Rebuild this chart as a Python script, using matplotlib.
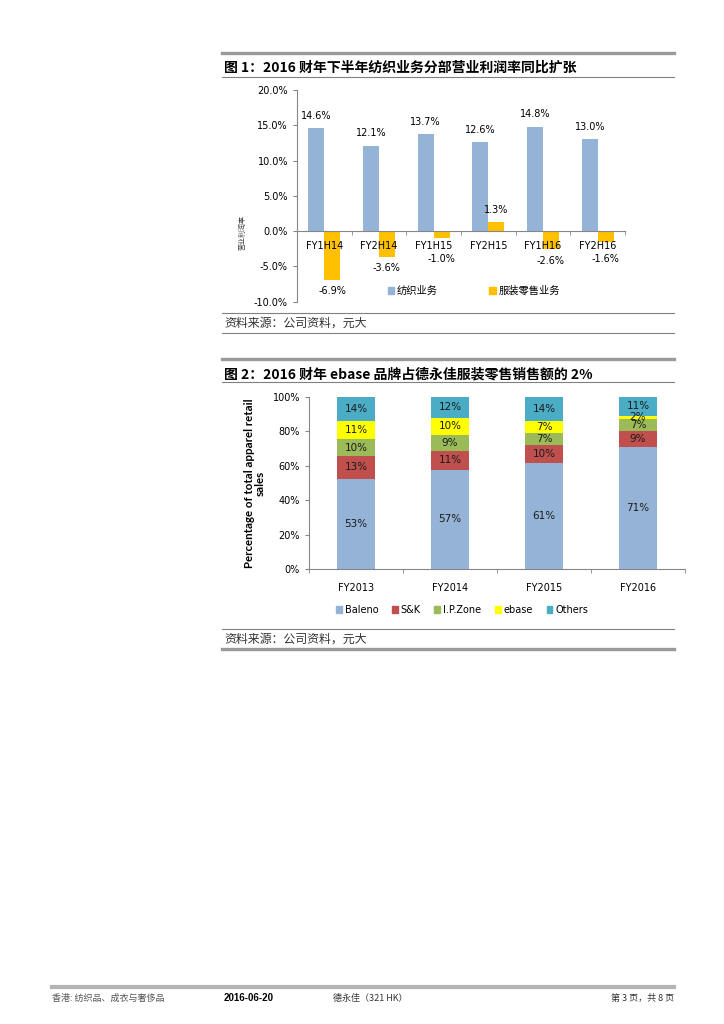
import numpy as np
import matplotlib.pyplot as plt
from matplotlib.lines import Line2D
from matplotlib.patches import Patch

plt.rcParams['font.family'] = ['DejaVu Sans', 'Noto Sans CJK SC']
CJK = ['Noto Sans CJK SC', 'DejaVu Sans']

# 图1 数据
periods = ['FY1H14', 'FY2H14', 'FY1H15', 'FY2H15', 'FY1H16', 'FY2H16']
textile = [14.6, 12.1, 13.7, 12.6, 14.8, 13.0]
retail = [-6.9, -3.6, -1.0, 1.3, -2.6, -1.6]

# 图2 数据
years = ['FY2013', 'FY2014', 'FY2015', 'FY2016']
brands = ['Baleno', 'S&K', 'I.P.Zone', 'ebase', 'Others']
baleno = [53, 57, 61, 71]
sk = [13, 11, 10, 9]
ipzone = [10, 9, 7, 7]
ebase = [11, 10, 7, 2]
others = [14, 12, 14, 11]

fig = plt.figure(figsize=(7.24, 10.24), dpi=100)


def fx(x):
    return x / 724


def fy(y):
    return 1 - y / 1024


def hline(y, x0, x1, lw, color):
    fig.add_artist(Line2D([fx(x0), fx(x1)], [fy(y), fy(y)], lw=lw, color=color))


axis_gray = '#868686'

# ---------- 图1 ----------
hline(53, 222, 674, 2.4, '#9a9a9a')
fig.text(fx(224), fy(68), '图 1：2016 财年下半年纺织业务分部营业利润率同比扩张',
         fontsize=10, fontweight='bold', va='center', family=CJK)
hline(77, 222, 674, 0.8, '#808080')

ax1 = fig.add_axes([fx(297), fy(301.7), 328 / 724, 211.7 / 1024])
x = np.arange(len(periods))
w = 0.29
ax1.bar(x - w / 2, textile, w, color='#95B3D7')
ax1.bar(x + w / 2, retail, w, color='#FFC000')
ax1.set_xlim(-0.5, len(periods) - 0.5)
ax1.set_ylim(-10, 20)
yt = np.arange(-10, 21, 5)
ax1.set_yticks(yt)
ax1.set_yticklabels([f'{v:.1f}%' for v in yt], fontsize=7)
for s in ['top', 'right']:
    ax1.spines[s].set_visible(False)
ax1.spines['bottom'].set_position(('data', 0))
ax1.spines['bottom'].set_color(axis_gray)
ax1.spines['left'].set_color(axis_gray)
ax1.set_xticks(x)
ax1.set_xticklabels(periods, fontsize=7)
ax1.set_xticks(np.arange(-0.5, len(periods), 1), minor=True)
ax1.tick_params(axis='x', which='major', length=0, pad=7)
ax1.tick_params(axis='x', which='minor', length=3, color=axis_gray, direction='out')
ax1.tick_params(axis='y', length=3, color=axis_gray, direction='out')

for xi, v in zip(x, textile):
    ax1.text(xi - w / 2, v + 1.75, f'{v:.1f}%', ha='center', va='center', fontsize=7)
for xi, v in zip(x, retail):
    yl = v + 1.75 if v > 0 else min(v - 1.65, -4.0)
    ax1.text(xi + w / 2, yl, f'{v:.1f}%', ha='center', va='center', fontsize=7)

fig.text(fx(243), fy(232), '营业利润率', rotation=90, fontsize=5, ha='center',
         va='center', family=CJK, color='#444444')

h1 = [Patch(color='#95B3D7'), Patch(color='#FFC000')]
ax1.legend(h1, ['纺织业务', '服装零售业务'], loc='center',
           bbox_to_anchor=(fx(474), fy(291)), bbox_transform=fig.transFigure,
           ncol=2, frameon=False, prop={'family': CJK, 'size': 7.4},
           handlelength=0.6, handleheight=0.6, handletextpad=0.3,
           columnspacing=5.0, borderpad=0)

hline(313, 222, 674, 0.8, '#808080')
fig.text(fx(224), fy(323), '资料来源：公司资料，元大', fontsize=8.6, va='center',
         family=CJK, color='#333333')
hline(333, 222, 674, 0.8, '#808080')

# ---------- 图2 ----------
hline(358.5, 222, 674, 2.4, '#9a9a9a')
fig.text(fx(224), fy(374), '图 2：2016 财年 ebase 品牌占德永佳服装零售销售额的 2%',
         fontsize=10, fontweight='bold', va='center', family=CJK)
hline(382, 222, 674, 0.8, '#808080')

ax2 = fig.add_axes([fx(309), fy(569), 376 / 724, 172.3 / 1024])
x2 = np.arange(len(years))
shares = np.array([baleno, sk, ipzone, ebase, others], dtype=float)
norm = shares / shares.sum(axis=0) * 100
colors2 = ['#95B3D7', '#C0504D', '#9BBB59', '#FFFF00', '#4BACC6']
bottom = np.zeros(len(years))
for i in range(len(brands)):
    ax2.bar(x2, norm[i], 0.4, bottom=bottom, color=colors2[i])
    for j in range(len(years)):
        ax2.text(x2[j], bottom[j] + norm[i, j] / 2, f'{shares[i, j]:.0f}%',
                 ha='center', va='center', fontsize=7.5, color='#1a1a1a')
    bottom += norm[i]

ax2.set_xlim(-0.5, len(years) - 0.5)
ax2.set_ylim(0, 100)
yt2 = np.arange(0, 101, 20)
ax2.set_yticks(yt2)
ax2.set_yticklabels([f'{v}%' for v in yt2], fontsize=7)
for s in ['top', 'right']:
    ax2.spines[s].set_visible(False)
ax2.spines['bottom'].set_color(axis_gray)
ax2.spines['left'].set_color(axis_gray)
ax2.set_xticks(x2)
ax2.set_xticklabels(years, fontsize=7)
ax2.set_xticks(np.arange(-0.5, len(years), 1), minor=True)
ax2.tick_params(axis='x', which='major', length=0, pad=10)
ax2.tick_params(axis='x', which='minor', length=3, color=axis_gray, direction='out')
ax2.tick_params(axis='y', length=3, color=axis_gray, direction='out')

fig.text(fx(255), fy(483), 'Percentage of total apparel retail\nsales', rotation=90,
         fontsize=8.3, fontweight='bold', family='Lato', ha='center', va='center',
         multialignment='center', linespacing=1.0)

h2 = [Patch(color=c) for c in colors2]
ax2.legend(h2, brands, loc='center', bbox_to_anchor=(fx(462), fy(610)),
           bbox_transform=fig.transFigure, ncol=5, frameon=False, fontsize=7,
           handlelength=0.6, handleheight=0.6, handletextpad=0.3,
           columnspacing=1.4, borderpad=0)

hline(628.5, 222, 674, 0.8, '#808080')
fig.text(fx(224), fy(639), '资料来源：公司资料，元大', fontsize=8.6, va='center',
         family=CJK, color='#333333')
hline(649, 222, 674, 2.4, '#9a9a9a')

# ---------- 页脚 ----------
hline(986.5, 52, 674, 3.0, '#b4b4b4')
fig.text(fx(52), fy(998), '香港: 纺织品、成衣与奢侈品', fontsize=6.5, va='center',
         family=CJK, color='#555555')
fig.text(fx(224), fy(998), '2016-06-20', fontsize=7, va='center',
         fontweight='bold', family='Liberation Sans')
fig.text(fx(333), fy(998), '德永佳（321 HK）', fontsize=6.5, va='center',
         family=CJK, color='#333333')
fig.text(fx(674), fy(998), '第 3 页，共 8 页', fontsize=6.5, va='center', ha='right',
         family=CJK, color='#333333')

fig.savefig('out.png', dpi=100)
